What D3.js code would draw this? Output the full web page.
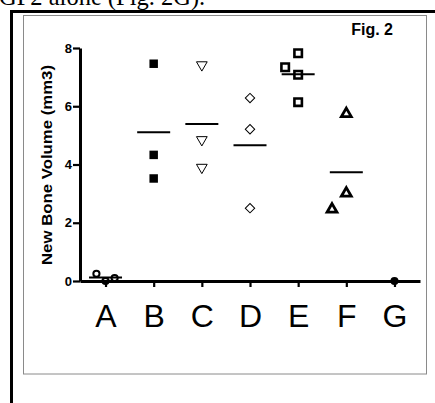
<!DOCTYPE html>
<html>
<head>
<meta charset="utf-8">
<script src="https://cdn.jsdelivr.net/npm/d3@7"></script>
<style>
  html, body { margin: 0; padding: 0; background: #fff; }
  svg { display: block; }
</style>
</head>
<body>
<svg id="chart" width="435" height="403"></svg>
<script>
// ---- data ----
const categories = ["A", "B", "C", "D", "E", "F", "G"];
const valuesA = [0, 0.25, 0.1];
const valuesB = [7.46, 4.33, 3.52];
const valuesC = [7.42, 4.85, 3.9];
const valuesD = [6.28, 5.21, 2.5];
const valuesE = [7.82, 7.08, 6.14, 7.34];
const valuesF = [5.74, 3.01, 2.46];
const valuesG = [0];
const yTicks = [0, 2, 4, 6, 8];
const yLabel = "New Bone Volume (mm3)";
const figLabel = "Fig. 2";
const captionText = "GF2 alone (Fig. 2G).";

const groups = [valuesA, valuesB, valuesC, valuesD, valuesE, valuesF, valuesG];

// ---- styles per group ----
const styles = {
  A: { type: d3.symbolCircle, area: 30, fill: "none", sw: 2, rot: 0, size: 7 },
  B: { type: d3.symbolSquare, area: 72, fill: "#000", sw: 0, rot: 0, size: 9 },
  C: { type: d3.symbolTriangle, area: 50, fill: "none", sw: 1, rot: 180, size: 11 },
  D: { type: d3.symbolSquare, area: 44, fill: "none", sw: 1, rot: 45, size: 10 },
  E: { type: d3.symbolSquare, area: 56, fill: "none", sw: 2.6, rot: 0, size: 10 },
  F: { type: d3.symbolTriangle, area: 42, fill: "none", sw: 2.8, rot: 0, size: 11 },
  G: { type: d3.symbolCircle, area: 52, fill: "#000", sw: 0, rot: 0, size: 7 }
};

const svg = d3.select("#chart");

// caption (clipped at top of page)
svg.append("text")
  .attr("x", -1).attr("y", 5)
  .attr("font-family", "Liberation Serif, Times New Roman, serif")
  .attr("font-size", 24.5)
  .attr("fill", "#000")
  .text(captionText);

// page frame lines
svg.append("line").attr("x1", 10).attr("x2", 435).attr("y1", 11.5).attr("y2", 11.5)
  .attr("stroke", "#000").attr("stroke-width", 3);
svg.append("line").attr("x1", 11.5).attr("x2", 11.5).attr("y1", 10).attr("y2", 403)
  .attr("stroke", "#000").attr("stroke-width", 3);

// inner figure box
svg.append("rect").attr("x", 23.5).attr("y", 15.5).attr("width", 403).attr("height", 358.5)
  .attr("fill", "none").attr("stroke", "#8a8a8a").attr("stroke-width", 1);

// fig label
svg.append("text")
  .attr("x", 393).attr("y", 35)
  .attr("text-anchor", "end")
  .attr("font-family", "Liberation Sans, Arial, sans-serif")
  .attr("font-weight", "bold")
  .attr("font-size", 16)
  .text(figLabel);

// ---- scales ----
const y = d3.scaleLinear().domain([0, 8]).range([281, 48]);
const x = d3.scalePoint().domain(categories).range([80, 420]).padding(0.53);

// ---- axes ----
const yAxis = d3.axisLeft(y).tickValues(yTicks).tickSize(7).tickSizeOuter(0).tickPadding(1)
  .tickFormat(d3.format("d"));
const gy = svg.append("g").attr("transform", "translate(80,0)").call(yAxis);
gy.select(".domain").attr("stroke-width", 3).attr("stroke", "#000");
gy.selectAll(".tick line").attr("stroke-width", 2.2).attr("stroke", "#000");
gy.selectAll(".tick text")
  .style("font-family", "'Liberation Sans', Arial, sans-serif")
  .style("font-weight", "bold").style("font-size", "13px").attr("fill", "#000");

const xAxis = d3.axisBottom(x).tickSize(6).tickSizeOuter(0).tickPadding(17);
const gx = svg.append("g").attr("transform", "translate(0,281)").call(xAxis);
gx.select(".domain").attr("stroke-width", 3).attr("stroke", "#000");
gx.selectAll(".tick line").attr("stroke-width", 2.2).attr("stroke", "#000");
gx.selectAll(".tick text")
  .style("font-family", "'Liberation Sans', Arial, sans-serif")
  .style("font-size", "32px").attr("fill", "#000");

// y label
svg.append("text")
  .attr("transform", "translate(52,165) rotate(-90)")
  .attr("text-anchor", "middle")
  .attr("font-family", "Liberation Sans, Arial, sans-serif")
  .attr("font-weight", "bold")
  .attr("font-size", 14)
  .attr("textLength", 200)
  .attr("lengthAdjust", "spacingAndGlyphs")
  .text(yLabel);

// ---- points with simple dodge ----
const plot = svg.append("g");
categories.forEach((cat, i) => {
  const vals = groups[i];
  const st = styles[cat];
  const cx = x(cat);
  const thr = st.size * 1.6;
  const step = st.size * 1.3;
  const placed = [];
  vals.forEach(v => {
    const py = y(v);
    const candidates = [0, -step, step, -2 * step, 2 * step];
    let px = cx;
    for (const off of candidates) {
      const ok = placed.every(p => Math.abs(p.y - py) >= thr || Math.abs(p.x - (cx + off)) >= step * 0.9);
      if (ok) { px = cx + off; break; }
    }
    placed.push({ x: px, y: py, v });
  });
  // mean line
  const m = d3.mean(vals);
  plot.append("line")
    .attr("x1", cx - 16.5).attr("x2", cx + 16.5)
    .attr("y1", y(m)).attr("y2", y(m))
    .attr("stroke", "#000").attr("stroke-width", 2);
  const sym = d3.symbol().type(st.type).size(st.area);
  plot.selectAll(null).data(placed).enter().append("path")
    .attr("d", sym)
    .attr("transform", d => `translate(${d.x},${d.y}) rotate(${st.rot})`)
    .attr("fill", st.fill)
    .attr("stroke", st.sw ? "#000" : "none")
    .attr("stroke-width", st.sw);
});
</script>
</body>
</html>
